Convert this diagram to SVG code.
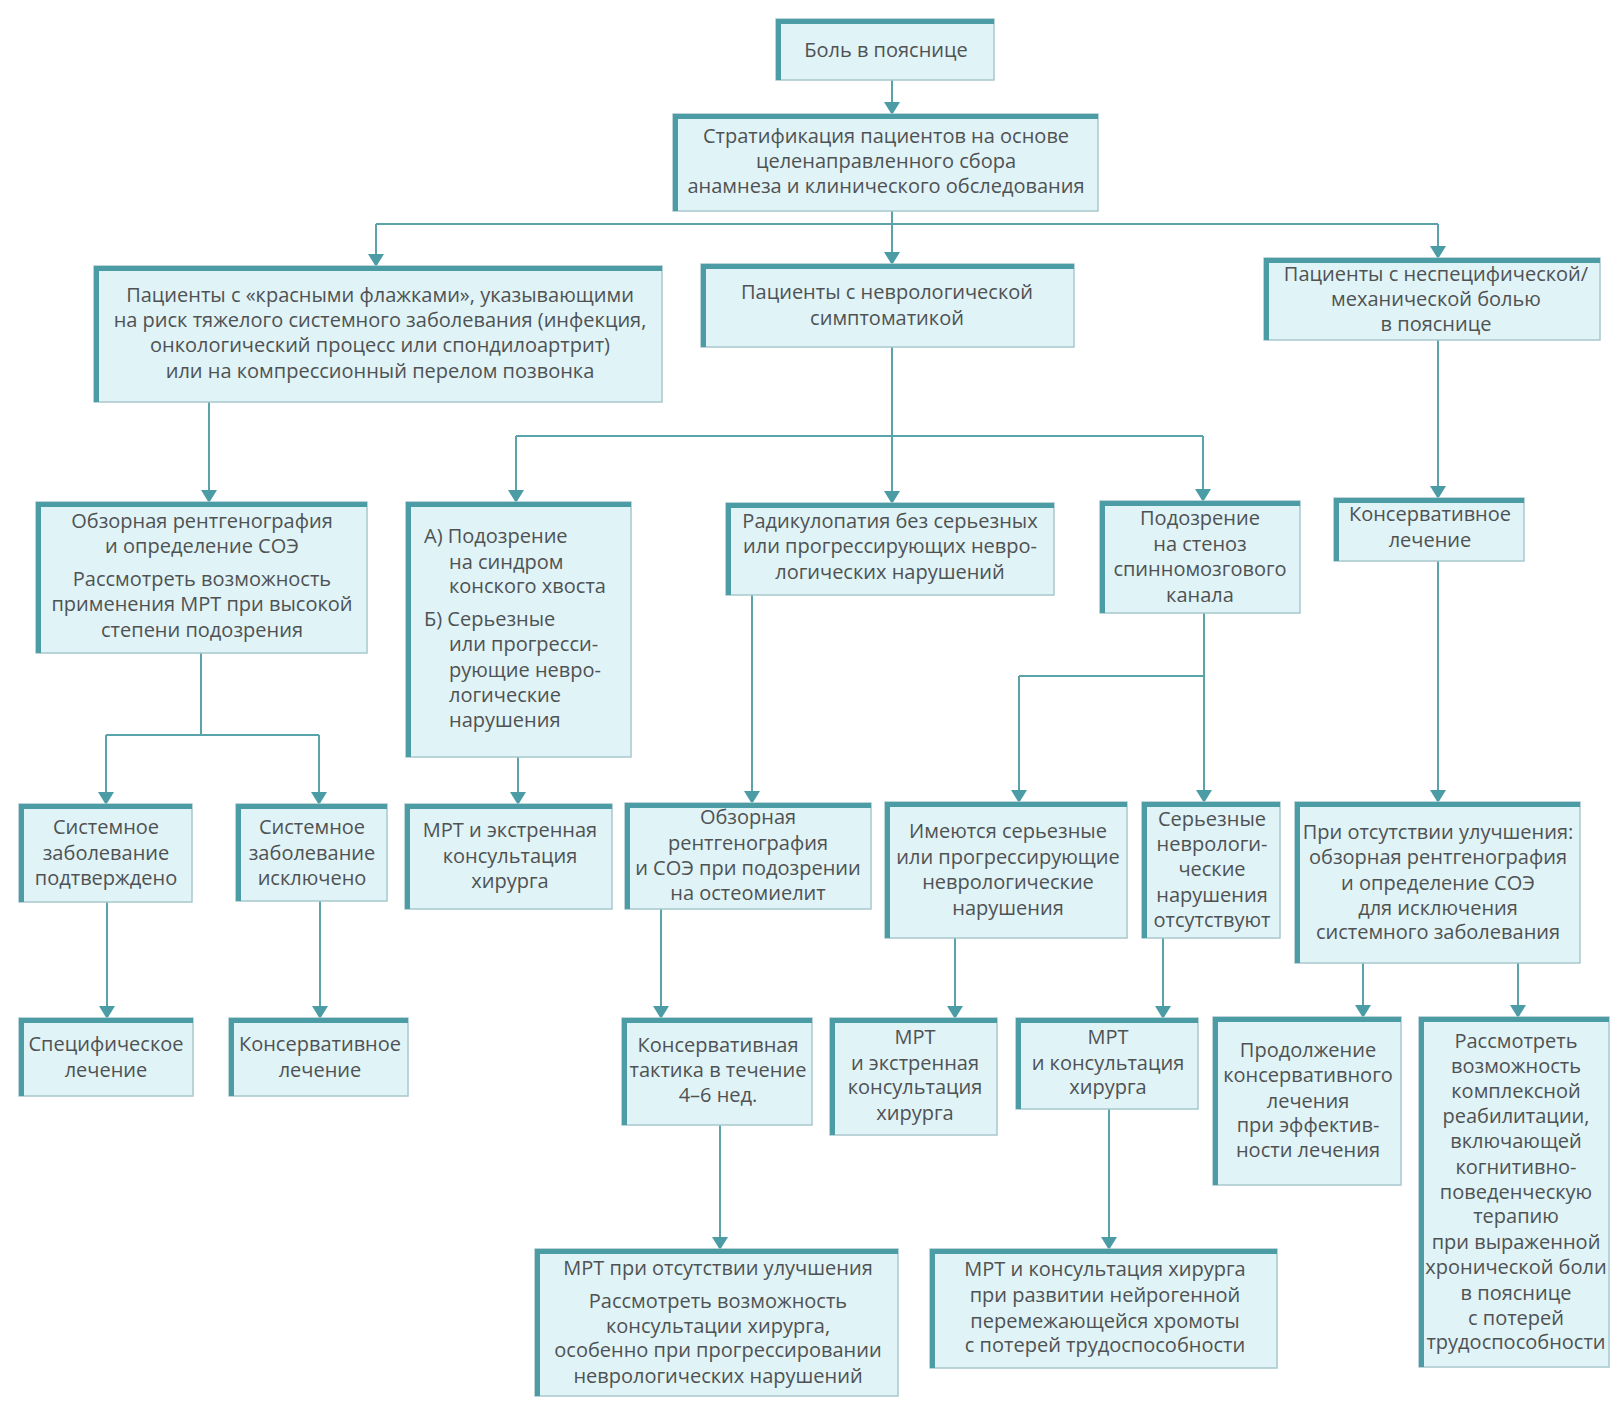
<svg xmlns="http://www.w3.org/2000/svg" width="1619" height="1408" viewBox="0 0 1619 1408">
<defs>
<style>
.bx{fill:#e0f3f7;stroke:#a8c8cc;stroke-width:1.5}
.ed{fill:none;stroke:#4b9ca5;stroke-width:5}
.t{font-family:"Open Sans","Noto Sans",sans-serif;font-size:20px;fill:#4f5253;text-anchor:middle}
.tl{text-anchor:start}
.c{fill:none;stroke:#5aa3ab;stroke-width:2}
</style>
<marker id="a" markerUnits="userSpaceOnUse" markerWidth="16" markerHeight="14" refX="8" refY="13" orient="auto-start-reverse" viewBox="0 0 16 14">
<path d="M0,0 L16,0 L8,14 Z" fill="#4b9ca5" transform="rotate(0)"/>
</marker>
</defs>
<rect width="1619" height="1408" fill="#ffffff"/>
<g id="connectors">
<path class="c" d="M892,80 V113"/>
<path class="c" d="M892,211 V263"/>
<path class="c" d="M376,224 H1438"/>
<path class="c" d="M376,224 V265"/>
<path class="c" d="M1438,224 V257"/>
<path class="c" d="M209,402 V501"/>
<path class="c" d="M892,347 V502"/>
<path class="c" d="M516,436 H1203"/>
<path class="c" d="M516,436 V501"/>
<path class="c" d="M1203,436 V500"/>
<path class="c" d="M1438,340 V497"/>
<path class="c" d="M201,653 V735 M106,735 H319"/>
<path class="c" d="M106,735 V803"/>
<path class="c" d="M319,735 V803"/>
<path class="c" d="M518,757 V803"/>
<path class="c" d="M752,595 V802"/>
<path class="c" d="M1204,613 V676 M1019,676 H1204"/>
<path class="c" d="M1019,676 V801"/>
<path class="c" d="M1204,676 V801"/>
<path class="c" d="M1438,561 V801"/>
<path class="c" d="M107,902 V1017"/>
<path class="c" d="M320,901 V1017"/>
<path class="c" d="M661,909 V1017"/>
<path class="c" d="M955,938 V1017"/>
<path class="c" d="M1163,938 V1017"/>
<path class="c" d="M1363,963 V1016"/>
<path class="c" d="M1518,963 V1016"/>
<path class="c" d="M720,1125 V1248"/>
<path class="c" d="M1109,1109 V1248"/>
</g>
<g id="arrows" fill="#4b9ca5">
<path d="M884,102 H900 L892,115 Z"/>
<path d="M884,252 H900 L892,265 Z"/>
<path d="M368,254 H384 L376,267 Z"/>
<path d="M1430,246 H1446 L1438,259 Z"/>
<path d="M201,490 H217 L209,503 Z"/>
<path d="M884,491 H900 L892,504 Z"/>
<path d="M508,490 H524 L516,503 Z"/>
<path d="M1195,489 H1211 L1203,502 Z"/>
<path d="M1430,486 H1446 L1438,499 Z"/>
<path d="M98,792 H114 L106,805 Z"/>
<path d="M311,792 H327 L319,805 Z"/>
<path d="M510,792 H526 L518,805 Z"/>
<path d="M744,791 H760 L752,804 Z"/>
<path d="M1011,790 H1027 L1019,803 Z"/>
<path d="M1196,790 H1212 L1204,803 Z"/>
<path d="M1430,790 H1446 L1438,803 Z"/>
<path d="M99,1006 H115 L107,1019 Z"/>
<path d="M312,1006 H328 L320,1019 Z"/>
<path d="M653,1006 H669 L661,1019 Z"/>
<path d="M947,1006 H963 L955,1019 Z"/>
<path d="M1155,1006 H1171 L1163,1019 Z"/>
<path d="M1355,1005 H1371 L1363,1018 Z"/>
<path d="M1510,1005 H1526 L1518,1018 Z"/>
<path d="M712,1237 H728 L720,1250 Z"/>
<path d="M1101,1237 H1117 L1109,1250 Z"/>
</g>
<g id="n1"><rect class="bx" x="776" y="19" width="218" height="61"/><path class="ed" d="M778.5,80 V21.5 H994"/>
<text class="t" x="886" y="57">Боль в пояснице</text></g>
<g id="n2"><rect class="bx" x="673" y="114" width="425" height="97"/><path class="ed" d="M675.5,211 V116.5 H1098"/>
<text class="t" x="886" y="143">Стратификация пациентов на основе</text>
<text class="t" x="886" y="168">целенаправленного сбора</text>
<text class="t" x="886" y="193">анамнеза и клинического обследования</text></g>
<g id="n3"><rect class="bx" x="94" y="266" width="568" height="136"/><path class="ed" d="M96.5,402 V268.5 H662"/>
<text class="t" x="380" y="302">Пациенты с «красными флажками», указывающими</text>
<text class="t" x="380" y="327">на риск тяжелого системного заболевания (инфекция,</text>
<text class="t" x="380" y="352">онкологический процесс или спондилоартрит)</text>
<text class="t" x="380" y="378">или на компрессионный перелом позвонка</text></g>
<g id="n4"><rect class="bx" x="701" y="264" width="373" height="83"/><path class="ed" d="M703.5,347 V266.5 H1074"/>
<text class="t" x="887" y="299">Пациенты с неврологической</text>
<text class="t" x="887" y="325">симптоматикой</text></g>
<g id="n5"><rect class="bx" x="1264" y="258" width="336" height="82"/><path class="ed" d="M1266.5,340 V260.5 H1600"/>
<text class="t" x="1436" y="281">Пациенты с неспецифической/</text>
<text class="t" x="1436" y="306">механической болью</text>
<text class="t" x="1436" y="331">в пояснице</text></g>
<g id="n6"><rect class="bx" x="36" y="502" width="331" height="151"/><path class="ed" d="M38.5,653 V504.5 H367"/>
<text class="t" x="202" y="528">Обзорная рентгенография</text>
<text class="t" x="202" y="553">и определение СОЭ</text>
<text class="t" x="202" y="586">Рассмотреть возможность</text>
<text class="t" x="202" y="611">применения МРТ при высокой</text>
<text class="t" x="202" y="637">степени подозрения</text></g>
<g id="n7"><rect class="bx" x="406" y="502" width="225" height="255"/><path class="ed" d="M408.5,757 V504.5 H631"/>
<text class="t tl" x="424" y="543">А) Подозрение</text>
<text class="t tl" x="449" y="569">на синдром</text>
<text class="t tl" x="449" y="593">конского хвоста</text>
<text class="t tl" x="424" y="626">Б) Серьезные</text>
<text class="t tl" x="449" y="651">или прогресси-</text>
<text class="t tl" x="449" y="677">рующие  невро-</text>
<text class="t tl" x="449" y="702">логические</text>
<text class="t tl" x="449" y="727">нарушения</text></g>
<g id="n8"><rect class="bx" x="726" y="503" width="328" height="92"/><path class="ed" d="M728.5,595 V505.5 H1054"/>
<text class="t" x="890" y="528">Радикулопатия без серьезных</text>
<text class="t" x="890" y="553">или прогрессирующих невро-</text>
<text class="t" x="890" y="579">логических нарушений</text></g>
<g id="n9"><rect class="bx" x="1100" y="501" width="200" height="112"/><path class="ed" d="M1102.5,613 V503.5 H1300"/>
<text class="t" x="1200" y="525">Подозрение</text>
<text class="t" x="1200" y="551">на стеноз</text>
<text class="t" x="1200" y="576">спинномозгового</text>
<text class="t" x="1200" y="602">канала</text></g>
<g id="n10"><rect class="bx" x="1334" y="498" width="190" height="63"/><path class="ed" d="M1336.5,561 V500.5 H1524"/>
<text class="t" x="1430" y="521">Консервативное</text>
<text class="t" x="1430" y="547">лечение</text></g>
<g id="n11"><rect class="bx" x="19" y="804" width="173" height="98"/><path class="ed" d="M21.5,902 V806.5 H192"/>
<text class="t" x="106" y="834">Системное</text>
<text class="t" x="106" y="860">заболевание</text>
<text class="t" x="106" y="885">подтверждено</text></g>
<g id="n12"><rect class="bx" x="236" y="804" width="151" height="97"/><path class="ed" d="M238.5,901 V806.5 H387"/>
<text class="t" x="312" y="834">Системное</text>
<text class="t" x="312" y="860">заболевание</text>
<text class="t" x="312" y="885">исключено</text></g>
<g id="n13"><rect class="bx" x="405" y="804" width="207" height="105"/><path class="ed" d="M407.5,909 V806.5 H612"/>
<text class="t" x="510" y="837">МРТ и экстренная</text>
<text class="t" x="510" y="863">консультация</text>
<text class="t" x="510" y="888">хирурга</text></g>
<g id="n14"><rect class="bx" x="625" y="803" width="246" height="106"/><path class="ed" d="M627.5,909 V805.5 H871"/>
<text class="t" x="748" y="824">Обзорная</text>
<text class="t" x="748" y="850">рентгенография</text>
<text class="t" x="748" y="875">и СОЭ при подозрении</text>
<text class="t" x="748" y="900">на остеомиелит</text></g>
<g id="n15"><rect class="bx" x="885" y="802" width="242" height="136"/><path class="ed" d="M887.5,938 V804.5 H1127"/>
<text class="t" x="1008" y="838">Имеются серьезные</text>
<text class="t" x="1008" y="864">или прогрессирующие</text>
<text class="t" x="1008" y="889">неврологические</text>
<text class="t" x="1008" y="915">нарушения</text></g>
<g id="n16"><rect class="bx" x="1142" y="802" width="138" height="136"/><path class="ed" d="M1144.5,938 V804.5 H1280"/>
<text class="t" x="1212" y="826">Серьезные</text>
<text class="t" x="1212" y="851">неврологи-</text>
<text class="t" x="1212" y="876">ческие</text>
<text class="t" x="1212" y="902">нарушения</text>
<text class="t" x="1212" y="927">отсутствуют</text></g>
<g id="n17"><rect class="bx" x="1295" y="802" width="285" height="161"/><path class="ed" d="M1297.5,963 V804.5 H1580"/>
<text class="t" x="1438" y="839">При отсутствии улучшения:</text>
<text class="t" x="1438" y="864">обзорная рентгенография</text>
<text class="t" x="1438" y="890">и определение СОЭ</text>
<text class="t" x="1438" y="915">для исключения</text>
<text class="t" x="1438" y="939">системного заболевания</text></g>
<g id="n18"><rect class="bx" x="19" y="1018" width="174" height="78"/><path class="ed" d="M21.5,1096 V1020.5 H193"/>
<text class="t" x="106" y="1051">Специфическое</text>
<text class="t" x="106" y="1077">лечение</text></g>
<g id="n19"><rect class="bx" x="229" y="1018" width="179" height="78"/><path class="ed" d="M231.5,1096 V1020.5 H408"/>
<text class="t" x="320" y="1051">Консервативное</text>
<text class="t" x="320" y="1077">лечение</text></g>
<g id="n20"><rect class="bx" x="622" y="1018" width="190" height="107"/><path class="ed" d="M624.5,1125 V1020.5 H812"/>
<text class="t" x="718" y="1052">Консервативная</text>
<text class="t" x="718" y="1077">тактика в течение</text>
<text class="t" x="718" y="1102">4–6 нед.</text></g>
<g id="n21"><rect class="bx" x="830" y="1018" width="167" height="117"/><path class="ed" d="M832.5,1135 V1020.5 H997"/>
<text class="t" x="915" y="1044">МРТ</text>
<text class="t" x="915" y="1070">и экстренная</text>
<text class="t" x="915" y="1094">консультация</text>
<text class="t" x="915" y="1120">хирурга</text></g>
<g id="n22"><rect class="bx" x="1016" y="1018" width="182" height="91"/><path class="ed" d="M1018.5,1109 V1020.5 H1198"/>
<text class="t" x="1108" y="1044">МРТ</text>
<text class="t" x="1108" y="1070">и консультация</text>
<text class="t" x="1108" y="1094">хирурга</text></g>
<g id="n23"><rect class="bx" x="1213" y="1017" width="188" height="168"/><path class="ed" d="M1215.5,1185 V1019.5 H1401"/>
<text class="t" x="1308" y="1057">Продолжение</text>
<text class="t" x="1308" y="1082">консервативного</text>
<text class="t" x="1308" y="1108">лечения</text>
<text class="t" x="1308" y="1132">при эффектив-</text>
<text class="t" x="1308" y="1157">ности лечения</text></g>
<g id="n24"><rect class="bx" x="1419" y="1017" width="190" height="350"/><path class="ed" d="M1421.5,1367 V1019.5 H1609"/>
<text class="t" x="1516" y="1048">Рассмотреть</text>
<text class="t" x="1516" y="1073">возможность</text>
<text class="t" x="1516" y="1098">комплексной</text>
<text class="t" x="1516" y="1123">реабилитации,</text>
<text class="t" x="1516" y="1148">включающей</text>
<text class="t" x="1516" y="1174">когнитивно-</text>
<text class="t" x="1516" y="1199">поведенческую</text>
<text class="t" x="1516" y="1223">терапию</text>
<text class="t" x="1516" y="1249">при выраженной</text>
<text class="t" x="1516" y="1274">хронической боли</text>
<text class="t" x="1516" y="1300">в пояснице</text>
<text class="t" x="1516" y="1325">с потерей</text>
<text class="t" x="1516" y="1349">трудоспособности</text></g>
<g id="n25"><rect class="bx" x="535" y="1249" width="363" height="147"/><path class="ed" d="M537.5,1396 V1251.5 H898"/>
<text class="t" x="718" y="1275">МРТ при отсутствии улучшения</text>
<text class="t" x="718" y="1308">Рассмотреть возможность</text>
<text class="t" x="718" y="1333">консультации хирурга,</text>
<text class="t" x="718" y="1357">особенно при прогрессировании</text>
<text class="t" x="718" y="1383">неврологических нарушений</text></g>
<g id="n26"><rect class="bx" x="930" y="1249" width="347" height="119"/><path class="ed" d="M932.5,1368 V1251.5 H1277"/>
<text class="t" x="1105" y="1276">МРТ и консультация хирурга</text>
<text class="t" x="1105" y="1302">при развитии нейрогенной</text>
<text class="t" x="1105" y="1328">перемежающейся хромоты</text>
<text class="t" x="1105" y="1352">с потерей трудоспособности</text></g>
</svg>
